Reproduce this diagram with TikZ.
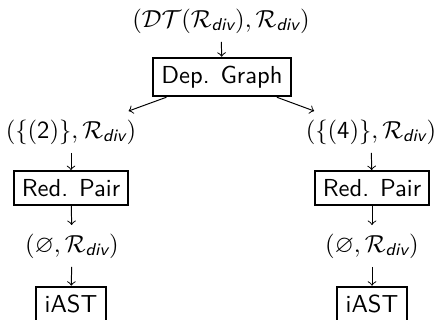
\documentclass[tikz,border=0pt]{standalone}
\usepackage{amsmath}
\usepackage{amssymb}
\renewcommand{\familydefault}{\sfdefault}
\newcommand{\Rdiv}{\mathcal{R}_{\textit{div}}}
\newcommand{\num}[1]{\textup{#1}}
\tikzset{
  procbox/.style={draw, line width=0.8pt, inner sep=3.33pt},
  problem/.style={inner sep=3.33pt},
  flow/.style={->, line width=0.4pt}
}
\begin{document}
\begin{tikzpicture}[x=0.4065pt, y=-0.4065pt]
  \useasboundingbox (0,0) rectangle (440,320);
  % initial problem and dependency graph
  \node[problem] (top) at (221,21) {$(\mathcal{DT}(\Rdiv), \Rdiv)$};
  \node[procbox] (dg) at (222,77) {Dep. Graph};
  % left branch
  \node[problem] (l1) at (71,132) {$(\{(\num{2})\}, \Rdiv)$};
  \node[procbox] (lrp) at (71,188) {Red. Pair};
  \node[problem] (l2) at (72,246) {$(\varnothing, \Rdiv)$};
  \node[procbox] (lend) at (71,304) {iAST};
  % right branch
  \node[problem] (r1) at (371,132) {$(\{(\num{4})\}, \Rdiv)$};
  \node[procbox] (rrp) at (372,188) {Red. Pair};
  \node[problem] (r2) at (372,246) {$(\varnothing, \Rdiv)$};
  \node[procbox] (rend) at (372,304) {iAST};
  % connectors
  \draw[flow] (top) -- (dg);
  \draw[flow] (dg) -- (l1);
  \draw[flow] (dg) -- (r1);
  \draw[flow] (l1) -- (lrp);
  \draw[flow] (lrp) -- (l2);
  \draw[flow] (l2) -- (lend);
  \draw[flow] (r1) -- (rrp);
  \draw[flow] (rrp) -- (r2);
  \draw[flow] (r2) -- (rend);
\end{tikzpicture}
\end{document}
